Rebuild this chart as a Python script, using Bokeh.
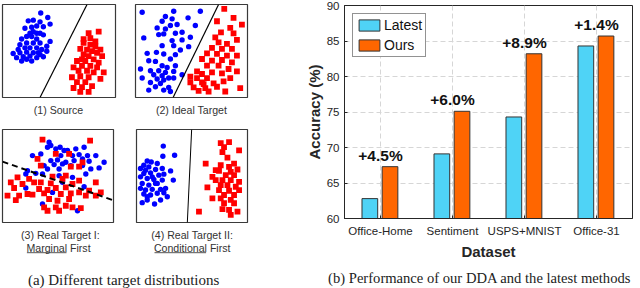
from bokeh.plotting import figure
from bokeh.models import (Range1d, FactorRange, FixedTicker, Legend, LegendItem,
                          ColumnDataSource, LabelSet, Label)
from bokeh.core.properties import value
from bokeh.layouts import row, column
from bokeh.transform import dodge
from bokeh.embed import file_html
from bokeh.resources import INLINE

SANS = "Liberation Sans"
SERIF = "Liberation Serif"
INK = "#262626"

# ---------------- (a) scatter panels: points ----------------
# panel 1: source
source_blue = [(40.7,12.7),(47.7,17.3),(28.3,20.7),(33.3,20),(40,21.7),(50,24),(25,28.3),(31.7,27.3),
               (36.7,26),(43.3,26.7),(33.3,31.7),(40,33.3),(43.3,35),(26.7,36.7),(31.7,36.7),(21.7,39.3),
               (36.7,39.3),(50,41.7),(20,45),(26.7,43.3),(33.3,43.3),(40,43.3),(46.7,46.7),(18.3,50),
               (25,48.3),(30,48.3),(36.7,48.3),(41.7,50),(13.3,54),(20,53.3),(26.7,52.7),(33.3,53.3),
               (40,55),(46.7,51.7),(16.7,58.3),(23.3,57.3),(30,56.7),(36.7,58.3),(43.3,57.3),(21.7,61.7),
               (31.7,61.7),(26.7,60),(38.3,53.3),(36.7,33.3),(30,33.3)]
source_red = [(98.3,31.7),(88.3,33.3),(83.3,39.3),(95,41.7),(90,45),(80,49.3),(100,50),(86.7,50),
              (91.7,51.7),(96.7,53.3),(83.3,55),(101.7,56.7),(88.3,56.7),(76.7,61.7),(93.3,60),(85,61.7),
              (98.3,63.3),(73.3,68.3),(81.7,66.7),(90,66.7),(96.7,68.3),(78.3,71.7),(86.7,71.7),(103.3,73.3),
              (93.3,73.3),(71.7,78.3),(80,77.3),(88.3,78.3),(100,80),(76.7,83.3),(85,83.3),(73.3,89.3),
              (81.7,88.3),(88.3,93.3),(80,93.3),(91.7,87.3),(83.3,43.3),(90,38.3),(95,46.7),(81.7,60)]
source_boundary = [(86.7,4),(40,99)]
source_box = [(2.7,115),(99,4)]

# panel 2: ideal target
ideal_blue = [(11.7,11.7),(43.3,10.7),(70,10.7),(35,16),(41.7,18.3),(31.7,20.7),(57.7,17.3),(40,25),
              (46.7,24),(65,25),(26.7,27.3),(35,28.3),(51.7,31.7),(45,32.7),(13.3,37.3),(28.3,34),
              (33.3,33.3),(41.7,40),(51.7,39.3),(60,36.7),(31.7,45),(43.3,45),(50,49.3),(58.3,46),
              (16.7,52.7),(26,51.7),(33.3,53.3),(45,54),(18.3,60),(25,60.7),(40,58.3),(31.7,65),
              (36.7,66.7),(45,65),(10,68.3),(20,70),(28.3,70),(35,71.7),(43.3,70.7),(23.3,74),
              (31.7,75),(11.7,77.3),(26.7,78.3),(33.3,79.3),(38.3,77.3),(20,81.7),(30,82.7),(38.3,86.7),
              (25,86),(18.3,89.3),(33.3,89.3),(40,90.7),(51.7,74),(43.3,77.3)]
ideal_red = [(94,8.3),(103.3,17.3),(86.7,20.7),(111.7,24),(100,27.3),(90.7,31.7),(103.3,32.7),(85,36.7),
             (106.7,39.3),(88.3,41.7),(96.7,43.3),(81.7,47.3),(91.7,48.3),(101.7,48.3),(76.7,52.7),(86.7,53.3),
             (96.7,55),(106.7,55),(71.7,58.3),(81.7,60),(91.7,59.3),(101.7,61.7),(76.7,65),(88.3,65),
             (98.3,68.3),(106.7,70.7),(66.7,70.7),(71.7,73.3),(81.7,71.7),(91.7,72.7),(60,76),(66.7,77.3),
             (76.7,77.3),(100,77.3),(60,81.7),(71.7,81.7),(83.3,82.7),(93.3,80.7),(63.3,86.7),(75,87.3),
             (86.7,86),(110,87.3),(68.3,90),(78.3,90.7),(95,90.7),(73.3,83.3)]
ideal_boundary = [(88.3,4),(42.7,96.7)]
ideal_box = [(5,117.3),(96.7,4)]

# panel 3: real target I (marginal first)
marginal_blue = [(48.3,11.7),(50,15),(46.7,16.7),(59.3,16.7),(55,18.3),(63.3,20),(75,18.3),(83.3,16.7),
                 (31.7,25),(40,23.3),(60,25),(71.7,25),(78.3,24),(86.7,25),(95,25),(50,30),(56.7,29.3),
                 (65,31.7),(73.3,30),(88.3,30.7),(103.3,31.7),(43.3,35),(53.3,34),(61.7,33.3),(70,35),
                 (81.7,35),(98.3,37.3),(46.7,38.3),(58.3,38.3),(90,38.3),(26.7,40),(35,42.7),(41.7,43.3),
                 (58.3,45),(71.7,46.7),(85,43.3),(25,43.3),(61.7,51.7),(83.3,56),(25,57.3),(51.7,61.7),
                 (41.7,73.3),(76.7,80),(66.7,20),(81.7,28.3)]
marginal_red = [(41.7,9),(89.3,10),(55,23.3),(68.3,23.3),(36.7,28.3),(81.7,31.7),(40,35),(16.7,46.7),
                (28.3,48.3),(51.7,46),(65,45),(70,36),(78.3,36),(40,51.7),(50,52.7),(61.7,48.3),(78.3,50),
                (10,51.7),(21.7,53.3),(33.3,51.7),(71.7,53.3),(13.3,57.3),(38.3,58.3),(46.7,59.3),(55,57.3),
                (65,56.7),(78.3,61.7),(88.3,60),(95,51.7),(100,61.7),(6.7,65),(18.3,65),(31.7,64),(43.3,62.7),
                (60,63.3),(70,62.7),(95,65),(15,69.3),(48.3,68.3),(56.7,70),(68.3,68.3),(85,65),(43.3,76.7),
                (55,76.7),(65,75),(71.7,76.7),(46.7,80),(58.3,80),(80,77.3),(26.7,63.3)]
marginal_boundary = [(1.7,31),(111.7,69.3)]
marginal_box = [(1.7,112.7),(91.7,-1)]

# panel 4: real target II (conditional first)
conditional_blue = [(32.7,15.7),(44,25),(32.3,26),(16.7,30.7),(20.7,31.7),(26.7,33.3),(13.3,35),(10,38.3),
                    (18.3,36.7),(25,39.3),(31.7,38.3),(40,40.7),(13.3,43.3),(20,42.7),(28.3,45),(33.3,44),
                    (10,46.7),(16.7,48.3),(23.3,49.3),(31.7,50),(42.7,50),(11.7,53.3),(18.3,55),(26.7,53.3),
                    (10,58.3),(15,60),(21.7,59.3),(30,59.3),(35,58.3),(13.3,64),(20,65),(26.7,63.3),(33.3,62.7),
                    (16.7,70),(30,70),(11.7,72.7),(24,74),(21.7,46.7),(15,40),(25,53.3),(16.7,66.7),(36.7,66.7)]
conditional_red = [(90,12.7),(98.3,11.7),(93.3,16.7),(108.3,20),(91.7,21.7),(96.7,27.3),(75,33.3),(103.3,33.3),
                   (90,35),(98.3,36.7),(88.3,40.7),(100,41.7),(106.7,39.3),(95,45),(85,50),(91.7,50),(100,50),
                   (108.3,51.7),(90,55),(96.7,55),(105,56.7),(76.7,57.3),(88.3,60),(98.3,60.7),(108.3,60),
                   (93.3,65),(103.3,65),(81.7,68.3),(90,68.3),(100,70),(93.3,73.3),(103.3,73.3),(68.3,81.7),
                   (98.3,80),(106.7,81.7),(91.7,79.3),(100,85),(81.7,46.7),(103.3,45),(85,40)]
conditional_boundary = [(61,-1),(56.7,92.7)]
conditional_box = [(6,116.7),(92.7,-1)]

# ---------------- (b) bar chart data ----------------
datasets = ["Office-Home", "Sentiment", "USPS+MNIST", "Office-31"]
latest = [62.8, 69.1, 74.3, 84.3]
ours = [67.3, 75.1, 83.2, 85.7]
gains = ["+4.5%", "+6.0%", "+8.9%", "+1.4%"]
y_ticks = [60, 65, 70, 75, 80, 85, 90]

# caption texts
cap_source = "(1) Source"
cap_ideal = "(2) Ideal Target"
cap_real1 = ["(3) Real Target I:", "Marginal First"]
cap_real2 = ["(4) Real Target II:", "Conditional First"]
cap_a = "(a)  Different target distributions"
cap_b = "(b)  Performance of our DDA and the latest methods"
underline_marginal = [26.4, 66.0]
underline_conditional = [154.0, 205.6]


def panel(blue, red, boundary, box, w, h, bl, br, bt, bb, dash="solid", lw=1.2):
    (x0, x1), (y0, y1) = box
    p = figure(width=w, height=h, x_range=Range1d(x0, x1), y_range=Range1d(y0, y1),
               output_backend="svg", toolbar_location=None,
               x_axis_location=None, y_axis_location=None,
               min_border_left=bl, min_border_right=br, min_border_top=bt, min_border_bottom=bb)
    p.grid.visible = False
    p.outline_line_color = "#3a3a3a"
    p.outline_line_width = 1.2
    p.scatter([q[0] for q in blue], [q[1] for q in blue], marker="circle", size=5.4,
              fill_color="#0000ff", line_color=None)
    p.scatter([q[0] for q in red], [q[1] for q in red], marker="square", size=5.8,
              fill_color="#ff0000", line_color=None)
    p.line([q[0] for q in boundary], [q[1] for q in boundary], line_color="black",
           line_width=lw, line_dash=dash)
    return p


def text_strip(w, h):
    # x data units = pixels from the strip's left edge, y from its top
    p = figure(width=w, height=h, x_range=Range1d(0, w), y_range=Range1d(h, 0),
               output_backend="svg", toolbar_location=None,
               x_axis_location=None, y_axis_location=None,
               min_border_left=0, min_border_right=0, min_border_top=0, min_border_bottom=0)
    p.grid.visible = False
    p.outline_line_color = None
    return p


def put(p, x, y, text, size, font=SANS, color="#333333", align="center"):
    p.add_layout(Label(x=x, y=y, text=text, text_align=align, text_baseline="middle",
                       text_font=font, text_font_size=size, text_color=color))


f1 = panel(source_blue, source_red, source_boundary, source_box, 125, 102, 2, 10, 4, 3)
f2 = panel(ideal_blue, ideal_red, ideal_boundary, ideal_box, 127, 102, 10, 5, 4, 5)
f3 = panel(marginal_blue, marginal_red, marginal_boundary, marginal_box, 125, 110, 2, 12, 13, 4,
           dash="6 4", lw=2)
f4 = panel(conditional_blue, conditional_red, conditional_boundary, conditional_box, 127, 110, 11, 5, 13, 4,
           lw=1)

c1 = text_strip(252, 14)
put(c1, 58, 7, cap_source, "10.6px")
put(c1, 191, 7, cap_ideal, "10.6px")

c2 = text_strip(252, 36)
put(c2, 60, 8.7, cap_real1[0], "10.6px")
put(c2, 58, 21.3, cap_real1[1], "10.6px")
put(c2, 191.7, 8.7, cap_real2[0], "10.6px")
put(c2, 191.7, 21.3, cap_real2[1], "10.6px")
c2.line(underline_marginal, [26.2, 26.2], line_color="#555555", line_width=1)
c2.line(underline_conditional, [26.2, 26.2], line_color="#555555", line_width=1)

# ---------------- bar chart ----------------
src = ColumnDataSource(dict(dataset=datasets, latest=latest, ours=ours, gain=gains))
p = figure(width=388, height=262, x_range=FactorRange(factors=datasets), y_range=Range1d(60, 90),
           output_backend="svg", toolbar_location=None,
           min_border_left=92, min_border_right=8, min_border_top=5, min_border_bottom=41)

r1 = p.vbar(x=dodge("dataset", -0.148, range=p.x_range), top="latest", width=0.218, source=src,
            fill_color="#4fd3f6", line_color="#333333", line_width=1)
r2 = p.vbar(x=dodge("dataset", 0.132, range=p.x_range), top="ours", width=0.218, source=src,
            fill_color="#ff6600", line_color="#333333", line_width=1)

ticker = FixedTicker(ticks=y_ticks)
p.yaxis.ticker = ticker
p.ygrid.ticker = ticker
for g in (p.xgrid, p.ygrid):
    g.grid_line_color = "#d6d6d6"
    g.grid_line_dash = "5 3"
    g.grid_line_width = 1

for ax in (p.xaxis, p.yaxis):
    ax.axis_line_color = INK
    ax.major_tick_line_color = INK
    ax.major_tick_in = 3
    ax.major_tick_out = 0
    ax.minor_tick_in = 0
    ax.minor_tick_out = 0
    ax.major_label_text_font = SANS
    ax.major_label_text_font_size = "11.5px"
    ax.major_label_text_color = INK
    ax.axis_label_text_font = SANS
    ax.axis_label_text_font_size = "15px"
    ax.axis_label_text_font_style = "bold"
    ax.axis_label_text_color = INK
p.yaxis.major_label_standoff = 5
p.yaxis.axis_label_standoff = 1
p.xaxis.major_label_standoff = 6
p.xaxis.axis_label_standoff = 3
p.yaxis.axis_label = "Accuracy (%)"
p.xaxis.axis_label = "Dataset"
p.outline_line_color = INK
p.outline_line_width = 1

labels = LabelSet(x="dataset", y="ours", text="gain", source=src, text_align="center",
                  text_baseline="alphabetic", y_offset=6, text_font=value(SANS),
                  text_font_size=value("15.5px"), text_font_style="bold", text_color="#111111")
p.add_layout(labels)

legend = Legend(items=[LegendItem(label="Latest", renderers=[r1]), LegendItem(label="Ours", renderers=[r2])],
                location="top_left", margin=8, padding=3, spacing=4, glyph_width=26, glyph_height=14,
                label_height=14, label_standoff=2, label_text_font=SANS, label_text_font_size="14px",
                label_text_color="#111111", border_line_color=INK, border_line_width=1,
                background_fill_color="white", background_fill_alpha=1)
p.add_layout(legend)

# bottom strip holding both sub-figure captions
strip = text_strip(640, 26)
put(strip, 125, 17, cap_a, "15px", SERIF, "#222222")
put(strip, 481, 15, cap_b, "14.6px", SERIF, "#222222")

layout = column(row(column(row(f1, f2), c1, row(f3, f4), c2), p), strip)

open("out.html", "w").write(file_html(layout, INLINE))
